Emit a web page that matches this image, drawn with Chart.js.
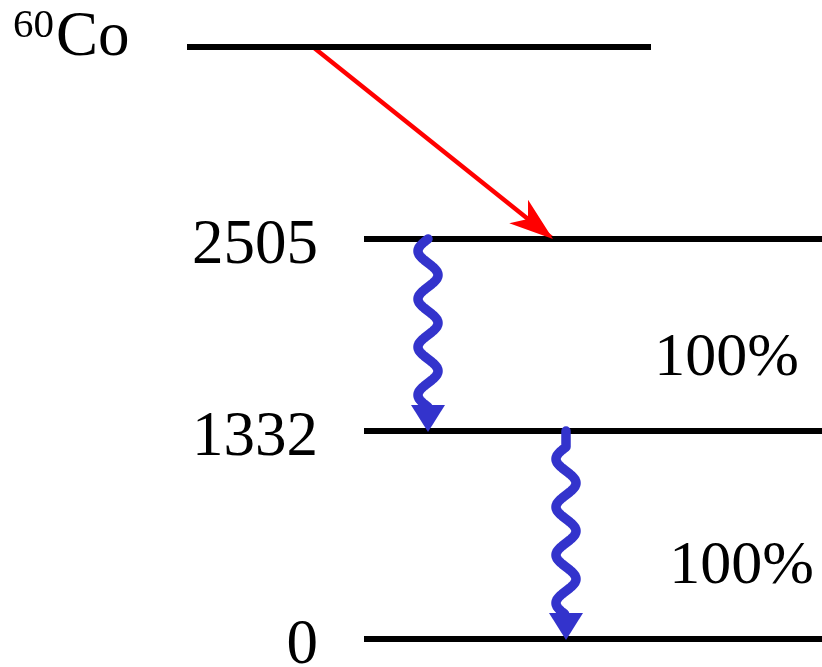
<!DOCTYPE html>
<html>
<head>
<meta charset="utf-8">
<script src="https://cdn.jsdelivr.net/npm/chart.js@4/dist/chart.umd.min.js"></script>
<style>
html, body { margin: 0; padding: 0; background: #fff; }
#wrap { width: 822px; height: 667px; }
</style>
</head>
<body>
<div id="wrap"><canvas id="myChart" width="822" height="667"></canvas></div>
<script>
// levels of the 60Co decay scheme (energies in keV), heights are diagram units
var levelNames = ['60Co', '2505', '1332', '0'];
var levelHeights = [620, 428, 236, 28];
var levelStart = [187, 364, 364, 364];
var levelEnd = [651, 822, 822, 822];

// beta decay 60Co -> 2505
var betaFrom = 0;
var betaTo = 1;
var betaX = [313, 553];

// gamma transitions
var gammaFrom = [1, 2];
var gammaTo = [2, 3];
var gammaX = [428, 566];
var gammaIntensity = ['100%', '100%'];

// where the intensity labels sit (right edge / baseline, data units)
var intensityPos = [{x: 799, y: 292}, {x: 814, y: 84}];

var SERIF = "'Liberation Serif', 'Times New Roman', serif";
var BLUE = '#3333cc';

var datasets = [];
levelNames.forEach(function(name, i) {
    datasets.push({
        label: name,
        data: [{x: levelStart[i], y: levelHeights[i]}, {x: levelEnd[i], y: levelHeights[i]}],
        borderColor: '#000',
        borderWidth: 6,
        pointRadius: 0
    });
});
var betaIndex = datasets.length;
datasets.push({
    label: 'beta',
    data: [{x: betaX[0], y: levelHeights[betaFrom]}, {x: betaX[1], y: levelHeights[betaTo]}],
    borderColor: '#ff0000',
    borderWidth: 4.5,
    pointRadius: 0
});
var gammaIndex = datasets.length;
gammaFrom.forEach(function(f, i) {
    datasets.push({
        label: 'gamma' + i,
        data: [{x: gammaX[i], y: levelHeights[f]}, {x: gammaX[i], y: levelHeights[gammaTo[i]]}],
        showLine: false,
        pointRadius: 0
    });
});

function barbHead(ctx, x0, y0, x1, y1) {
    var dx = x1 - x0, dy = y1 - y0;
    var len = Math.sqrt(dx * dx + dy * dy);
    var ux = dx / len, uy = dy / len;
    var nx = -uy, ny = ux;
    ctx.fillStyle = '#ff0000';
    ctx.beginPath();
    ctx.moveTo(x1, y1);
    ctx.lineTo(x1 - 44 * ux + 15 * nx, y1 - 44 * uy + 15 * ny);
    ctx.lineTo(x1 - 32 * ux, y1 - 32 * uy);
    ctx.lineTo(x1 - 44 * ux - 15 * nx, y1 - 44 * uy - 15 * ny);
    ctx.closePath();
    ctx.fill();
}

function wavyArrow(ctx, cx, y0, tip) {
    var headLen = 27, half = 17, amp = 10;
    var L = (tip - headLen + 2) - y0;
    var P = 48;
    var lead = L - 3.5 * P;
    if (lead < 0) { P = L / 3.5; lead = 0; }
    ctx.strokeStyle = BLUE;
    ctx.lineWidth = 9.5;
    ctx.lineCap = 'round';
    ctx.lineJoin = 'round';
    ctx.beginPath();
    for (var t = 0; t <= L; t += 1) {
        var off = t < lead ? 0 : amp * Math.sin(2 * Math.PI * (t - lead) / P);
        if (t === 0) ctx.moveTo(cx - off, y0);
        else ctx.lineTo(cx - off, y0 + t);
    }
    ctx.stroke();
    ctx.fillStyle = BLUE;
    ctx.beginPath();
    ctx.moveTo(cx - half, tip - headLen);
    ctx.lineTo(cx + half, tip - headLen);
    ctx.lineTo(cx, tip);
    ctx.closePath();
    ctx.fill();
}

var schemePlugin = {
    id: 'scheme',
    afterDatasetsDraw: function(chart) {
        var ctx = chart.ctx;
        var xs = chart.scales.x, ys = chart.scales.y;
        ctx.save();

        var bm = chart.getDatasetMeta(betaIndex);
        barbHead(ctx, bm.data[0].x, bm.data[0].y, bm.data[1].x, bm.data[1].y);

        gammaFrom.forEach(function(f, i) {
            var gm = chart.getDatasetMeta(gammaIndex + i);
            wavyArrow(ctx, gm.data[0].x, gm.data[0].y, gm.data[1].y + 1);
        });

        ctx.fillStyle = '#000';
        ctx.textBaseline = 'alphabetic';
        levelNames.forEach(function(name, i) {
            var py = ys.getPixelForValue(levelHeights[i]);
            if (name === '60Co') {
                ctx.textAlign = 'left';
                ctx.font = '41px ' + SERIF;
                ctx.fillText('60', 13, py - 10);
                ctx.font = '63px ' + SERIF;
                ctx.fillText('Co', 56, py + 8);
            } else {
                ctx.textAlign = 'right';
                ctx.font = '63px ' + SERIF;
                ctx.fillText(name, xs.getPixelForValue(levelStart[i]) - 46, py + 24);
            }
        });

        ctx.textAlign = 'right';
        ctx.font = '62px ' + SERIF;
        gammaIntensity.forEach(function(txt, i) {
            ctx.fillText(txt, xs.getPixelForValue(intensityPos[i].x), ys.getPixelForValue(intensityPos[i].y));
        });
        ctx.restore();
    }
};

var ctx = document.getElementById('myChart').getContext('2d');
var chart = new Chart(ctx, {
    type: 'line',
    data: { datasets: datasets },
    options: {
        responsive: false,
        animation: false,
        devicePixelRatio: 1,
        layout: { padding: 0 },
        plugins: {
            legend: { display: false },
            tooltip: { enabled: false }
        },
        scales: {
            x: { type: 'linear', min: 0, max: 822, display: false },
            y: { type: 'linear', min: 0, max: 667, display: false }
        }
    },
    plugins: [schemePlugin]
});
</script>
</body>
</html>
